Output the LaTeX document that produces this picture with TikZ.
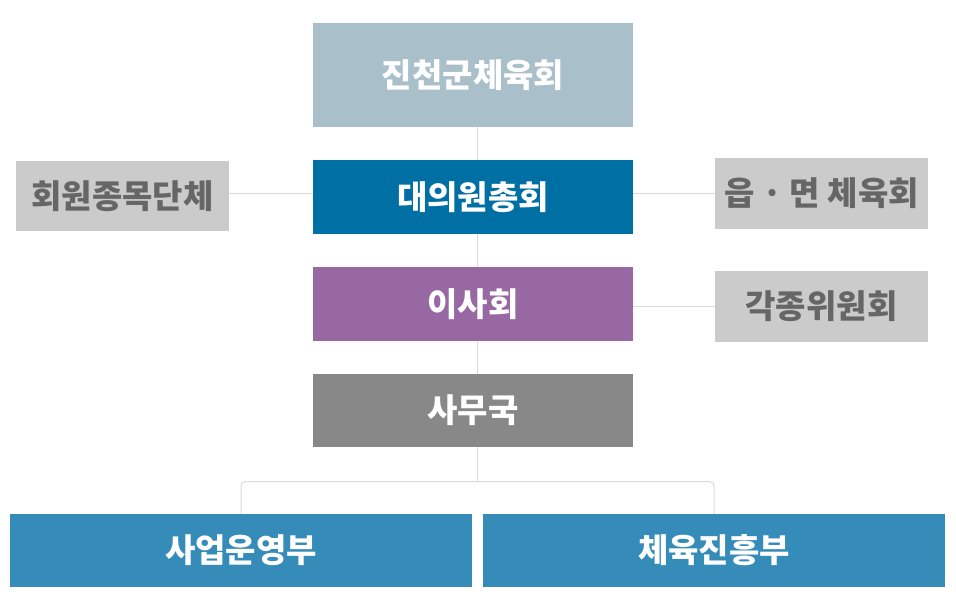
\documentclass[tikz,border=0pt]{standalone}
\usepackage{fontspec}
\usepackage{tikz}
\usetikzlibrary{positioning}
\usetikzlibrary{calc}
\newfontfamily\krfont{Noto Sans CJK KR}
\definecolor{topblue}{HTML}{A9BFCA}
\definecolor{councilblue}{HTML}{006FA3}
\definecolor{boardviolet}{HTML}{9868A3}
\definecolor{officegray}{HTML}{888888}
\definecolor{sidegray}{HTML}{CBCBCB}
\definecolor{sidetext}{HTML}{666666}
\definecolor{deptblue}{HTML}{368CB8}
\definecolor{linegray}{HTML}{D9D9D9}
\tikzset{
 box/.style={rectangle, inner sep=0pt, text=white, font=\krfont\bfseries\fontsize{33}{36}\selectfont},
 mainbox/.style={box, minimum width=320pt, minimum height=74pt},
 sidebox/.style={box, fill=sidegray, text=sidetext, minimum width=213pt, minimum height=71pt},
 deptbox/.style={box, fill=deptblue, minimum width=462pt, minimum height=73pt},
 link/.style={draw=linegray, line width=1pt}
}
\begin{document}
\begin{tikzpicture}[x=1pt,y=-1pt]
\useasboundingbox (0,0) rectangle (956,606);

\path (473,75) node[name=top,mainbox,fill=topblue,minimum height=104pt] {진천군체육회};
\path (473,197) node[name=council,mainbox,fill=councilblue] {대의원총회};
\path (473,304) node[name=board,mainbox,fill=boardviolet] {이사회};
\path (473,410.5) node[name=office,mainbox,fill=officegray,minimum height=73pt] {사무국};

\path (122.5,196) node[name=members,sidebox,minimum height=70pt] {회원종목단체};
\path (821.5,193.5) node[name=towns,sidebox] {읍 · 면 체육회};
\path (821.5,306) node[name=committees,sidebox] {각종위원회};

\path (241,550.5) node[name=bizdept,deptbox] {사업운영부};
\path (714,550.5) node[name=sportdept,deptbox] {체육진흥부};

\path (477,481.7) coordinate (fork);

\path[link] ([xshift=4pt]top.south) edge ([xshift=4pt]council.north);
\path[link] ([xshift=4pt]council.south) edge ([xshift=4pt]board.north);
\path[link] ([xshift=4pt]board.south) edge ([xshift=4pt]office.north);
\path[link] ([xshift=4pt]office.south) edge (fork);

\path[link] ([yshift=3pt]members.east) edge ([yshift=3pt]members.east -| council.west);
\path[link] (council.east |- towns.west) edge (towns.west);
\path[link] (board.east |- committees.west) edge (committees.west);

\draw[link, rounded corners=4pt] (bizdept.north) |- (fork) -| (sportdept.north);

\end{tikzpicture}
\end{document}
